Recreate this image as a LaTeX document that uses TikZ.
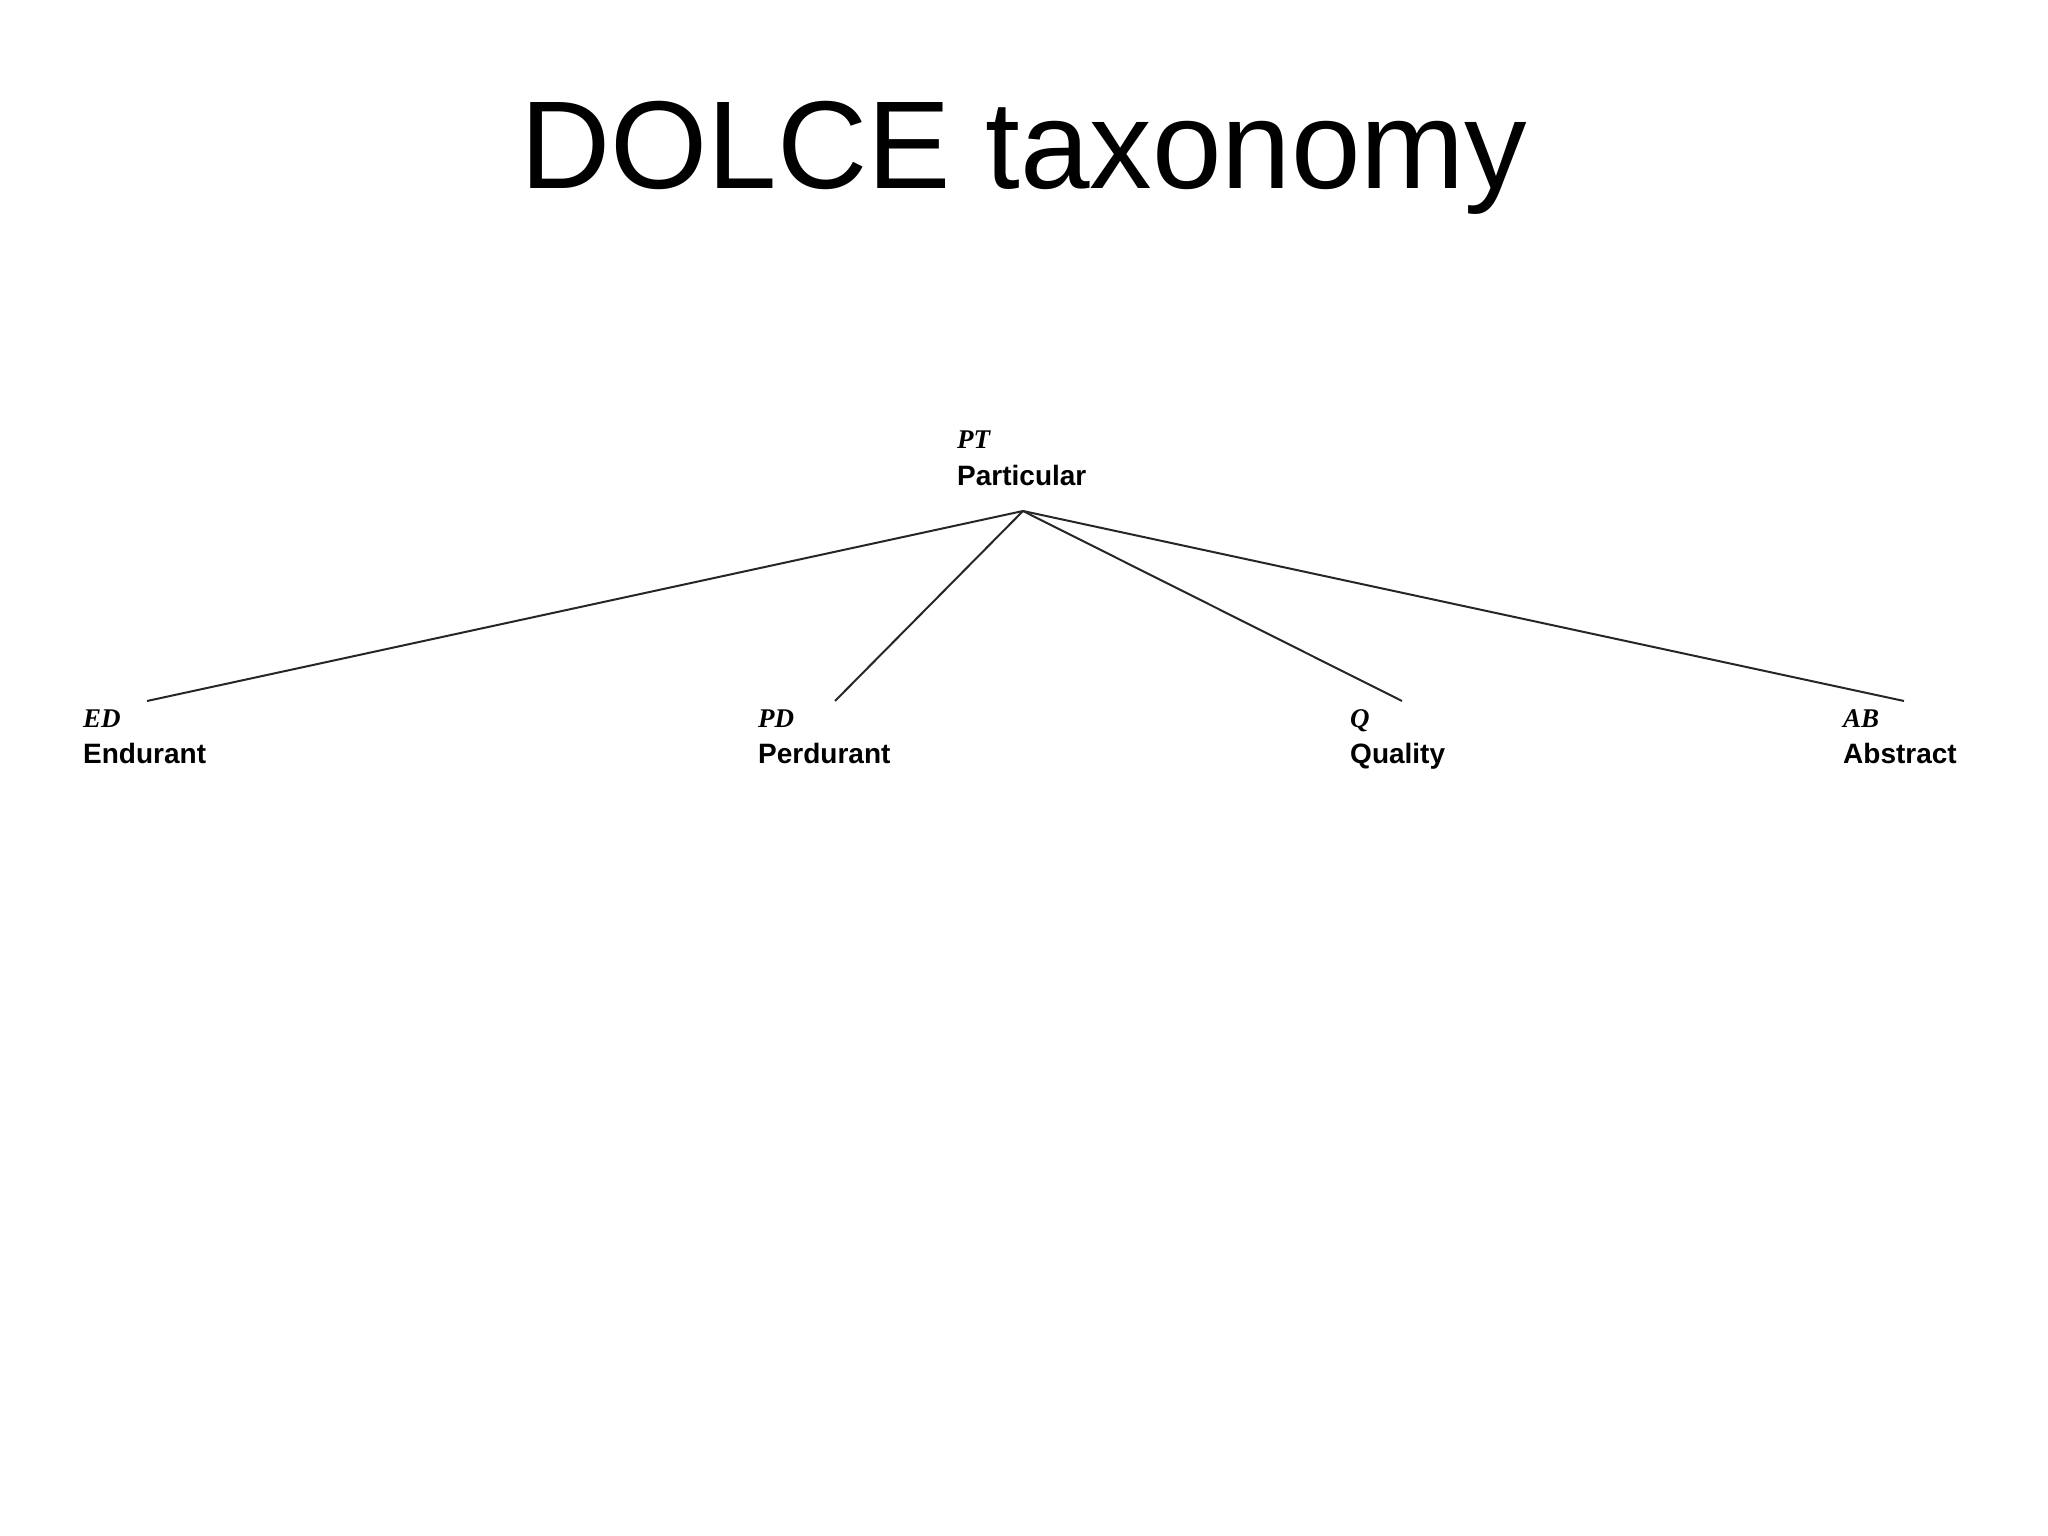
\documentclass[tikz,border=0pt]{standalone}
\usepackage{fontspec}
\setmainfont{Liberation Sans}
\newfontfamily\codefont{Liberation Serif}
\begin{document}
\begin{tikzpicture}[x=1pt,y=-1pt,
  codelabel/.style={anchor=base west,inner sep=0pt,font=\codefont\fontsize{27}{30}\selectfont\bfseries\itshape},
  namelabel/.style={anchor=base west,inner sep=0pt,font=\fontsize{28}{32}\selectfont\bfseries},
  branch/.style={line width=2pt,draw=black!85}]
\useasboundingbox (0,0) rectangle (2048,1536);
\node[anchor=base,inner sep=0pt,font=\fontsize{125}{140}\selectfont] (title) at (1024,189) {DOLCE taxonomy};
% parent
\node[codelabel] (pt) at (957,448) {PT};
\node[namelabel] (ptn) at (957,485) {Particular};
\coordinate (apex) at (1023,511);
% children
\node[codelabel] (ed) at (83,727) {ED};
\node[namelabel] (edn) at (83,763) {Endurant};
\coordinate (edtop) at (147,701);
\node[codelabel] (pd) at (758,727) {PD};
\node[namelabel] (pdn) at (758,763) {Perdurant};
\coordinate (pdtop) at (835,701);
\node[codelabel] (q) at (1350,727) {Q};
\node[namelabel] (qn) at (1350,763) {Quality};
\coordinate (qtop) at (1402,701);
\node[codelabel] (ab) at (1843,727) {AB};
\node[namelabel] (abn) at (1843,763) {Abstract};
\coordinate (abtop) at (1904,701);
\draw[branch] (apex) -- (edtop);
\draw[branch] (apex) -- (pdtop);
\draw[branch] (apex) -- (qtop);
\draw[branch] (apex) -- (abtop);
\end{tikzpicture}
\end{document}
